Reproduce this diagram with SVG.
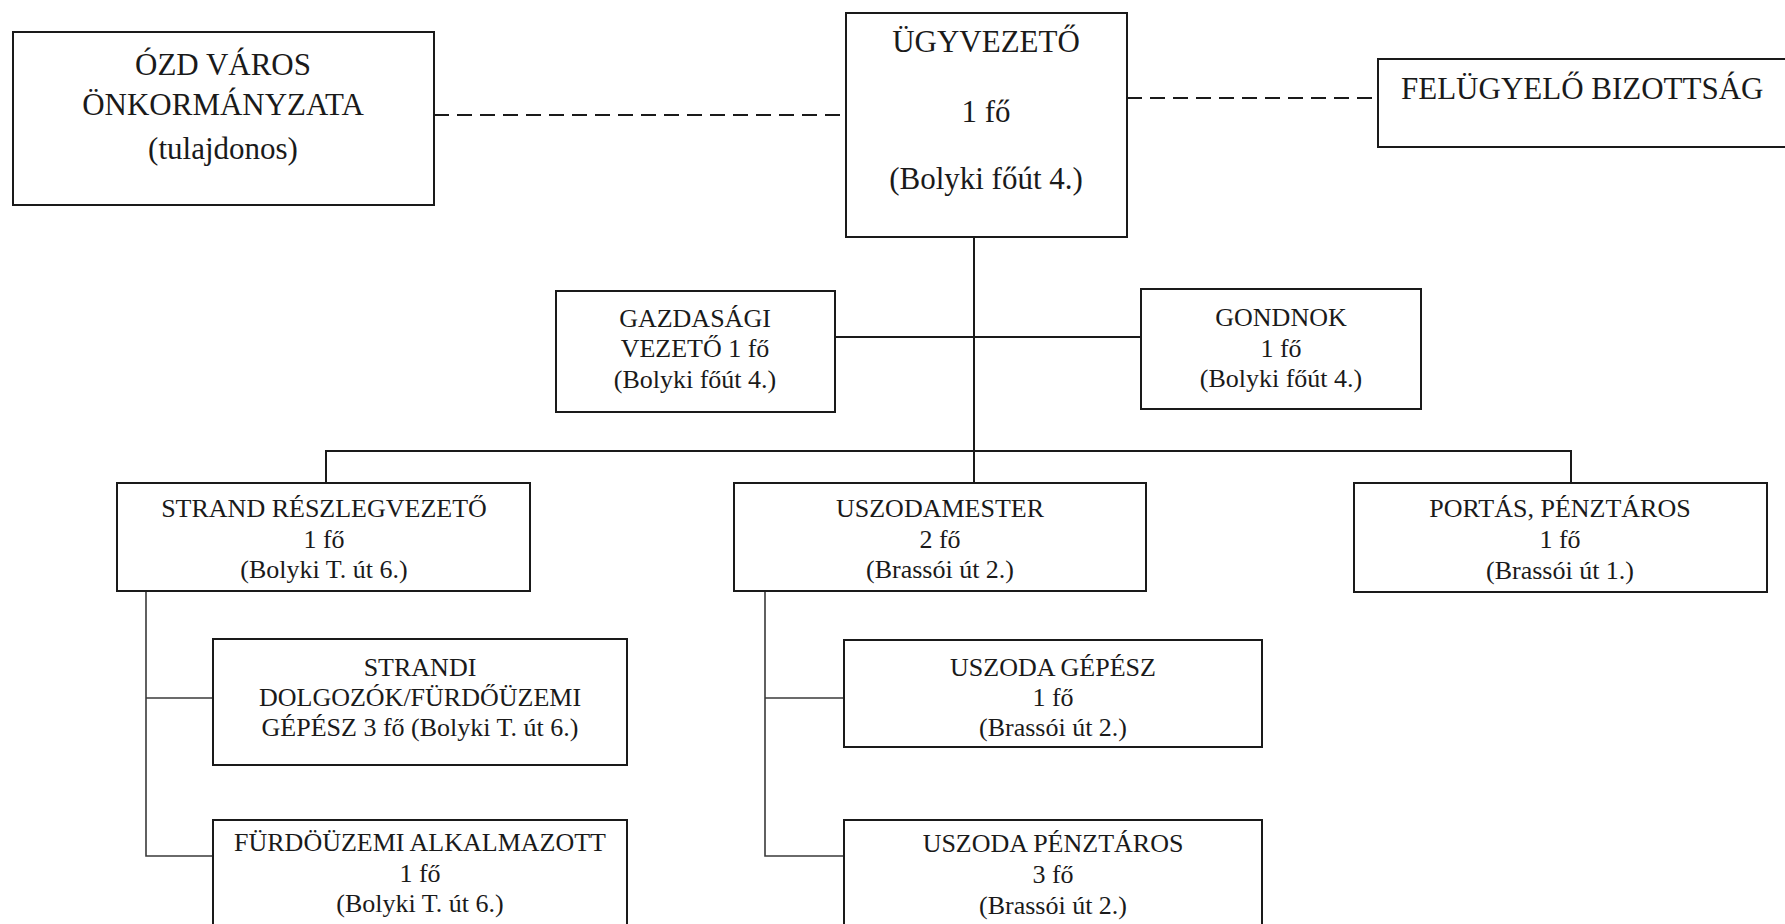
<svg xmlns="http://www.w3.org/2000/svg" width="1785" height="924" viewBox="0 0 1785 924">
<style>
.box{fill:#fff;stroke:#1a1a1a;stroke-width:2}
.ln{fill:none;stroke:#1a1a1a;stroke-width:2}
.ln2{fill:none;stroke:#3a3a3a;stroke-width:1.6}
.dash{fill:none;stroke:#1a1a1a;stroke-width:2;stroke-dasharray:15 8}
text{font-family:"Liberation Serif","Times New Roman",serif;fill:#1a1a1a;text-anchor:middle}
.big{font-size:31px}
.sm{font-size:26px}
</style>
<rect width="1785" height="924" fill="#fff"/>
<g id="connectors">
<line class="dash" x1="434" y1="115" x2="846" y2="115"/>
<line class="dash" x1="1127" y1="98" x2="1378" y2="98"/>
<line class="ln" x1="974" y1="237" x2="974" y2="483"/>
<line class="ln" x1="835" y1="337" x2="1141" y2="337"/>
<polyline class="ln" points="326,483 326,451 1571,451 1571,483"/>
<polyline class="ln2" points="146,591 146,856 213,856"/>
<line class="ln2" x1="146" y1="698" x2="213" y2="698"/>
<polyline class="ln2" points="765,591 765,856 844,856"/>
<line class="ln2" x1="765" y1="698" x2="844" y2="698"/>
</g>
<g id="ozd">
<rect class="box" x="13" y="32" width="421" height="173"/>
<text class="big" x="223" y="75">ÓZD VÁROS</text>
<text class="big" x="223" y="115">ÖNKORMÁNYZATA</text>
<text class="big" x="223" y="159">(tulajdonos)</text>
</g>
<g id="ugyvezeto">
<rect class="box" x="846" y="13" width="281" height="224"/>
<text class="big" x="986" y="52">ÜGYVEZETŐ</text>
<text class="big" x="986" y="122">1 fő</text>
<text class="big" x="986" y="189">(Bolyki főút 4.)</text>
</g>
<g id="felugyelo">
<rect class="box" x="1378" y="59" width="420" height="88"/>
<text class="big" x="1401" y="99" style="text-anchor:start">FELÜGYELŐ BIZOTTSÁG</text>
</g>
<g id="gazdasagi">
<rect class="box" x="556" y="291" width="279" height="121"/>
<text class="sm" x="695" y="327">GAZDASÁGI</text>
<text class="sm" x="695" y="357">VEZETŐ 1 fő</text>
<text class="sm" x="695" y="388">(Bolyki főút 4.)</text>
</g>
<g id="gondnok">
<rect class="box" x="1141" y="289" width="280" height="120"/>
<text class="sm" x="1281" y="326">GONDNOK</text>
<text class="sm" x="1281" y="357">1 fő</text>
<text class="sm" x="1281" y="387">(Bolyki főút 4.)</text>
</g>
<g id="strand">
<rect class="box" x="117" y="483" width="413" height="108"/>
<text class="sm" x="324" y="517">STRAND RÉSZLEGVEZETŐ</text>
<text class="sm" x="324" y="548">1 fő</text>
<text class="sm" x="324" y="578">(Bolyki T. út 6.)</text>
</g>
<g id="uszodamester">
<rect class="box" x="734" y="483" width="412" height="108"/>
<text class="sm" x="940" y="517">USZODAMESTER</text>
<text class="sm" x="940" y="548">2 fő</text>
<text class="sm" x="940" y="578">(Brassói út 2.)</text>
</g>
<g id="portas">
<rect class="box" x="1354" y="483" width="413" height="109"/>
<text class="sm" x="1560" y="517">PORTÁS, PÉNZTÁROS</text>
<text class="sm" x="1560" y="548">1 fő</text>
<text class="sm" x="1560" y="579">(Brassói út 1.)</text>
</g>
<g id="strandi">
<rect class="box" x="213" y="639" width="414" height="126"/>
<text class="sm" x="420" y="676">STRANDI</text>
<text class="sm" x="420" y="706">DOLGOZÓK/FÜRDŐÜZEMI</text>
<text class="sm" x="420" y="736">GÉPÉSZ 3 fő (Bolyki T. út 6.)</text>
</g>
<g id="furdouzemi">
<rect class="box" x="213" y="820" width="414" height="115"/>
<text class="sm" x="420" y="851">FÜRDÖÜZEMI ALKALMAZOTT</text>
<text class="sm" x="420" y="882">1 fő</text>
<text class="sm" x="420" y="912">(Bolyki T. út 6.)</text>
</g>
<g id="uszoda-gepesz">
<rect class="box" x="844" y="640" width="418" height="107"/>
<text class="sm" x="1053" y="676">USZODA GÉPÉSZ</text>
<text class="sm" x="1053" y="706">1 fő</text>
<text class="sm" x="1053" y="736">(Brassói út 2.)</text>
</g>
<g id="uszoda-penztaros">
<rect class="box" x="844" y="820" width="418" height="115"/>
<text class="sm" x="1053" y="852">USZODA PÉNZTÁROS</text>
<text class="sm" x="1053" y="883">3 fő</text>
<text class="sm" x="1053" y="914">(Brassói út 2.)</text>
</g>
</svg>
